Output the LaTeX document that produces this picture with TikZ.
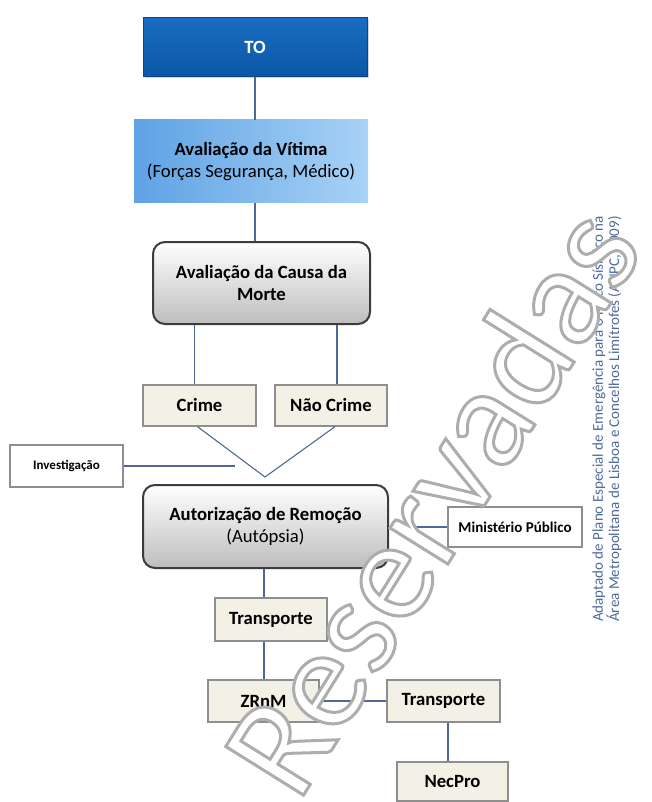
\documentclass[tikz,border=0pt]{standalone}
\usepackage{fontspec}
\setmainfont{Carlito}
\usetikzlibrary{shadows}

\definecolor{totop}{HTML}{1A6CC0}
\definecolor{tobot}{HTML}{0A57A6}
\definecolor{toedge}{HTML}{0A4682}
\definecolor{vitleft}{HTML}{5EA2E4}
\definecolor{vitright}{HTML}{A8D2F6}
\definecolor{roundedge}{HTML}{3C3C3C}
\definecolor{roundbot}{HTML}{BDBDBD}
\definecolor{boxedge}{HTML}{8E8E8E}
\definecolor{cream}{HTML}{F3F1E6}
\definecolor{linkblue}{HTML}{4E6899}
\definecolor{notecol}{HTML}{4D6A9A}

% outlined lettering: fill with the text colour, stroke in light grey
\newcommand\outlineon{\special{pdf:literal direct 2 Tr 3 w 0.68 0.68 0.68 RG}}
\newcommand\outlineoff{\special{pdf:literal direct 0 Tr}}

\tikzset{
  base/.style={font=\fontsize{18.7}{22.5}\selectfont\bfseries, align=center, inner sep=0pt},
  tobox/.style={base, draw=toedge, line width=1pt, top color=totop, bottom color=tobot,
    text=white, drop shadow={shadow xshift=1.5pt, shadow yshift=-1.5pt, opacity=0.35}},
  vitbox/.style={base, left color=vitleft, right color=vitright},
  roundbox/.style={base, rounded corners=12pt, draw=roundedge, line width=2pt,
    top color=white, bottom color=roundbot},
  plainbox/.style={base, draw=boxedge, line width=1.3pt, fill=cream,
    drop shadow={shadow xshift=1.2pt, shadow yshift=-1.2pt, opacity=0.3}},
  notebox/.style={draw=boxedge, line width=1.3pt, fill=white, inner sep=0pt,
    drop shadow={shadow xshift=1.2pt, shadow yshift=-1.2pt, opacity=0.25}},
  link/.style={draw=linkblue, line width=1.1pt},
}

\begin{document}
\begin{tikzpicture}[x=1pt, y=-1pt]
\useasboundingbox (0,0) rectangle (652,802);

% boxes
\node[tobox, minimum width=224pt, minimum height=59pt] (to) at (255,47.5) {TO};
\node[vitbox, minimum width=234pt, minimum height=83pt] (vit) at (251,161.5)
  {Avaliação da Vítima\\{\mdseries (Forças Segurança, Médico)}};
\node[roundbox, minimum width=217pt, minimum height=82pt] (causa) at (261.5,283)
  {Avaliação da Causa da\\Morte};
\node[plainbox, minimum width=113pt, minimum height=41pt] (crime) at (199.5,405.5) {Crime};
\node[plainbox, minimum width=112pt, minimum height=41pt] (naocrime) at (331,405.5) {Não Crime};
\node[notebox, minimum width=113pt, minimum height=42pt,
  font=\fontsize{13}{15}\selectfont\bfseries] (inv) at (66.5,466) {Investigação};
\node[roundbox, minimum width=245pt, minimum height=83pt] (aut) at (265.5,526.5)
  {Autorização de Remoção\\{\mdseries (Autópsia)}};
\node[notebox, minimum width=134pt, minimum height=40pt,
  font=\fontsize{15}{17}\selectfont\bfseries] (mp) at (515,527) {Ministério Público};
\node[plainbox, minimum width=112pt, minimum height=43pt] (tr1) at (271,619.5) {Transporte};
\node[plainbox, minimum width=111pt, minimum height=42pt] (zrnm) at (263.5,701) {ZRnM};
\node[plainbox, minimum width=113pt, minimum height=42pt] (tr2) at (443.5,701) {Transporte};
\node[plainbox, minimum width=111pt, minimum height=39pt] (nec) at (452.5,781.5) {NecPro};

% connector end points
\coordinate (join) at (265,477);
\coordinate (invend) at (235,466);

% connectors
\path[link] (to.south) -- (to.south |- vit.north);
\path[link] (to.south |- vit.south) -- (to.south |- causa.north);
\path[link] ([xshift=-5pt]crime.north |- causa.south) -- ([xshift=-5pt]crime.north);
\path[link] ([xshift=6pt]naocrime.north |- causa.south) -- ([xshift=6pt]naocrime.north);
\path[link] ([xshift=-2pt]crime.south) -- (join);
\path[link] ([xshift=4pt]naocrime.south) -- (join);
\path[link] (inv.east) -- (invend);
\path[link] (aut.east |- mp.west) -- (mp.west);
\path[link] ([xshift=-1.5pt]aut.south) -- ([xshift=-1.5pt]aut.south |- tr1.north);
\path[link] ([xshift=-1.5pt]aut.south |- tr1.south) -- ([xshift=-1.5pt]aut.south |- zrnm.north);
\path[link] (zrnm.east) -- (tr2.west);
\path[link] ([xshift=4.5pt]tr2.south) -- ([xshift=4.5pt]tr2.south |- nec.north);

% source note
\node[rotate=90, font=\fontsize{15}{14.5}\selectfont, text=notecol, align=center,
  inner sep=0pt] (src) at (607,419)
  {Adaptado de Plano Especial de Emergência para o Risco Sísmico na\\
   Área Metropolitana de Lisboa e Concelhos Limítrofes (ANPC, 2009)};

% watermark
\node[rotate=58, font=\fontsize{143}{143}\selectfont, text=white, inner sep=0pt]
  (wm) at (430,500) {\outlineon Reservadas\outlineoff};
\end{tikzpicture}
\end{document}
